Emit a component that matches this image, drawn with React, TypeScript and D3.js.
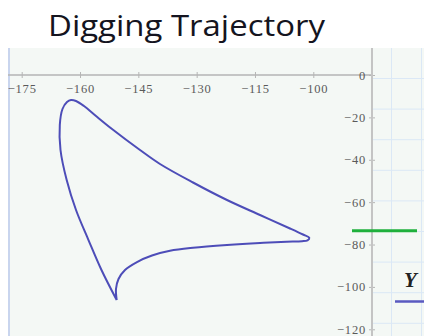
import React, { useRef, useEffect } from "react";
import * as d3 from "d3";

// trajectory, going round from the bottom tip
const trajX = [
  -150.57, -154.48, -157.82, -161.03, -163.43, -165.02, -165.2, -164.51, -163.35, -162.32,
  -161.03, -158.98, -155.89, -151.77, -144.57, -139.43, -130.94, -122.2, -113.71, -105.99,
  -102.65, -101.03, -101.49, -102.91, -106.84, -113.71, -122.2, -130.94, -136.86, -141.49,
  -145.35, -148.43, -150.1, -150.75, -150.57
];
const trajY = [
  -106.18, -92.02, -77.87, -63.71, -49.55, -35.39, -23.6, -16.05, -12.74, -11.8,
  -12.27, -14.63, -19.35, -25.48, -35.39, -41.99, -50.73, -58.99, -66.07, -72.42,
  -75.26, -76.77, -78.01, -78.43, -78.72, -79.28, -80.23, -81.55, -82.96, -85.18,
  -88.25, -92.02, -96.27, -100.99, -106.18
];

const xTicks = [-175, -160, -145, -130, -115, -100];
const yTicks = [0, -20, -40, -60, -80, -100, -120];

const title = "Digging Trajectory";

function App() {
  const ref = useRef<SVGSVGElement>(null);

  const w = 424,
    h = 336,
    plotTop = 48,
    plotLeft = 8,
    axisX = 372;

  useEffect(() => {
    const svg = d3.select(ref.current);
    svg.selectAll("*").remove();

    const x = d3.scaleLinear().domain([-175, -100]).range([21.7, 313.3]);
    const y = d3.scaleLinear().domain([0, -120]).range([75, 329.3]);

    // background
    svg.append("rect").attr("width", w).attr("height", h).attr("fill", "#fff");
    svg
      .append("rect")
      .attr("x", plotLeft)
      .attr("y", plotTop)
      .attr("width", w - plotLeft)
      .attr("height", h - plotTop)
      .attr("fill", "#f4f8f5");

    // sheet grid to the right of the plot
    const grid = svg.append("g").attr("stroke", "#dbe8f6").attr("stroke-width", 1);
    d3.range(plotTop + 30.5, h, 30.6).forEach(gy => {
      grid.append("line").attr("x1", axisX).attr("x2", w).attr("y1", gy).attr("y2", gy);
    });
    [391.5, 421.5].forEach(gx => {
      grid.append("line").attr("x1", gx).attr("x2", gx).attr("y1", plotTop).attr("y2", h);
    });

    // left border
    svg
      .append("line")
      .attr("x1", plotLeft + 1)
      .attr("x2", plotLeft + 1)
      .attr("y1", plotTop)
      .attr("y2", h)
      .attr("stroke", "#c9d5ee")
      .attr("stroke-width", 2);

    const tickFont = "Liberation Serif, DejaVu Serif, serif";

    // x axis at y = 0
    const xAxis = d3
      .axisBottom(x)
      .tickValues(xTicks)
      .tickSize(0)
      .tickPadding(9);
    const gx = svg
      .append("g")
      .attr("transform", `translate(0, ${y(0)})`)
      .call(xAxis)
      .attr("font-family", tickFont)
      .attr("font-size", 12.5);
    gx.select(".domain").remove();
    gx.append("line")
      .attr("x1", plotLeft)
      .attr("x2", axisX)
      .attr("stroke", "#b5b5b5")
      .attr("stroke-width", 1.5);
    gx.selectAll(".tick")
      .append("line")
      .attr("y1", -3)
      .attr("y2", 3)
      .attr("stroke", "#b5b5b5");
    gx.selectAll(".tick text")
      .attr("fill", "#5a5a5a")
      .attr("letter-spacing", 0.8);

    // y axis on the right edge of the x range
    const yAxis = d3
      .axisLeft(y)
      .tickValues(yTicks)
      .tickSize(0)
      .tickPadding(6);
    const gy = svg
      .append("g")
      .attr("transform", `translate(${axisX}, 0)`)
      .call(yAxis)
      .attr("font-family", tickFont)
      .attr("font-size", 12.5);
    gy.select(".domain").remove();
    gy.append("line")
      .attr("y1", plotTop)
      .attr("y2", h)
      .attr("stroke", "#c4c4c4")
      .attr("stroke-width", 2);
    gy.selectAll(".tick")
      .append("line")
      .attr("x1", -3)
      .attr("x2", 3)
      .attr("stroke", "#b5b5b5");
    gy.selectAll(".tick text")
      .attr("fill", "#5a5a5a")
      .attr("letter-spacing", 0.8);

    // trajectory
    const pts: [number, number][] = trajX.map((d, i) => [d, trajY[i]]);
    const line = d3
      .line<[number, number]>()
      .x(d => x(d[0]))
      .y(d => y(d[1]))
      .curve(d3.curveCatmullRom.alpha(0.5));
    svg
      .append("path")
      .attr("d", line(pts))
      .attr("fill", "none")
      .attr("stroke", "#4d4db8")
      .attr("stroke-width", 2)
      .attr("stroke-linejoin", "round");

    // legend bits on the right
    svg
      .append("line")
      .attr("x1", 352)
      .attr("x2", 417)
      .attr("y1", 230.7)
      .attr("y2", 230.7)
      .attr("stroke", "#1fb03c")
      .attr("stroke-width", 3);
    svg
      .append("text")
      .attr("x", 404)
      .attr("y", 287)
      .attr("font-family", tickFont)
      .attr("font-weight", "bold")
      .attr("font-style", "italic")
      .attr("font-size", 21)
      .attr("fill", "#222")
      .text("Y");
    svg
      .append("line")
      .attr("x1", 395)
      .attr("x2", w)
      .attr("y1", 301.5)
      .attr("y2", 301.5)
      .attr("stroke", "#5a5ac0")
      .attr("stroke-width", 2.5);

    // title
    svg
      .append("text")
      .attr("x", 48)
      .attr("y", 36)
      .attr("font-family", "Open Sans, DejaVu Sans, sans-serif")
      .attr("font-size", 30)
      .attr("fill", "#141420")
      .attr("textLength", 277)
      .attr("lengthAdjust", "spacingAndGlyphs")
      .text(title);
  }, []);

  return (
    <svg
      ref={ref}
      width={w}
      height={h}
      style={{ position: "absolute", left: 0, top: 0 }}
    />
  );
}

export default App;
